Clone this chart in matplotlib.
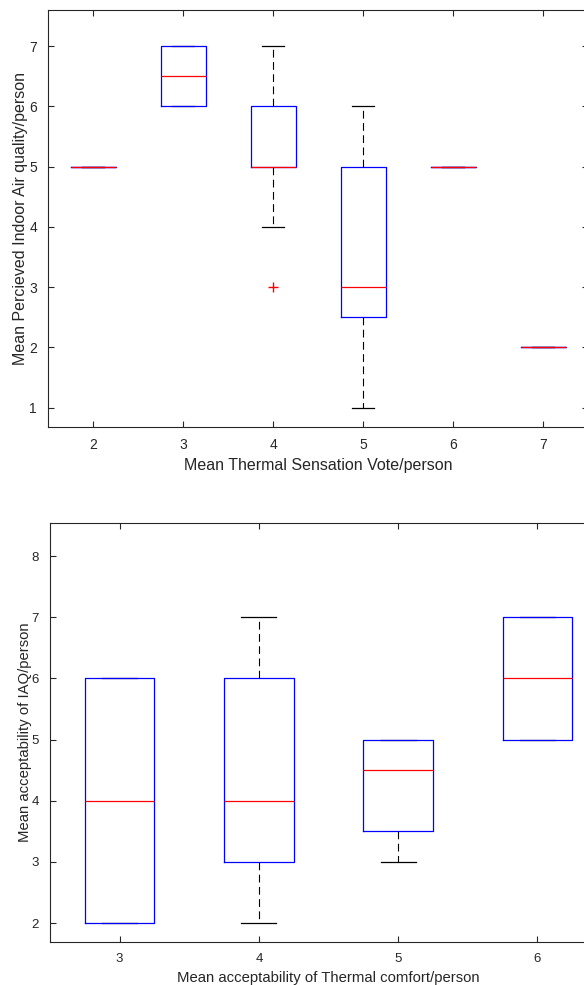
# boxplots of mean votes per person (MATLAB style)

import matplotlib
matplotlib.use('Agg')
import matplotlib.pyplot as plt

plt.rcParams['font.family'] = ['Liberation Sans', 'DejaVu Sans']

# top chart: perceived IAQ vs thermal sensation
tsv_labels = ['2', '3', '4', '5', '6', '7']
tsv_med = [5, 6.5, 5, 3, 5, 2]
tsv_q1 = [5, 6, 5, 2.5, 5, 2]
tsv_q3 = [5, 7, 6, 5, 5, 2]
tsv_lo = [5, 6, 4, 1, 5, 2]
tsv_hi = [5, 7, 7, 6, 5, 2]
tsv_fliers = [[], [], [3], [], [], []]

# bottom chart: IAQ acceptability vs thermal comfort acceptability
tc_labels = ['3', '4', '5', '6']
tc_med = [4, 4, 4.5, 6]
tc_q1 = [2, 3, 3.5, 5]
tc_q3 = [6, 6, 5, 7]
tc_lo = [2, 2, 3, 5]
tc_hi = [6, 7, 5, 7]
tc_fliers = [[], [], [], []]

AX_COLOR = (0.15, 0.15, 0.15)
W, H = 584, 985


def make_stats(med, q1, q3, lo, hi, fliers):
    stats = []
    for i in range(len(med)):
        stats.append({'med': med[i], 'q1': q1[i], 'q3': q3[i],
                      'whislo': lo[i], 'whishi': hi[i], 'fliers': fliers[i]})
    return stats


def draw_box(ax, stats, labels, xlabel, ylabel, ylim, yticks, tick_fs, label_fs, ypad):
    n = len(stats)
    pos = list(range(1, n + 1))
    ax.bxp(stats, positions=pos, widths=0.5, capwidths=0.25,
           boxprops=dict(color='blue', linewidth=0.9, zorder=3),
           medianprops=dict(color='red', linewidth=0.9, zorder=4),
           whiskerprops=dict(color='black', linewidth=0.8, linestyle=(0, (7, 4)), zorder=2),
           capprops=dict(color='black', linewidth=0.9, zorder=2),
           flierprops=dict(marker='+', markeredgecolor='red', markersize=7, linestyle='none'))
    ax.set_xlim(0.5, n + 0.5)
    ax.set_ylim(*ylim)
    ax.set_xticks(pos)
    ax.set_xticklabels(labels)
    ax.set_yticks(yticks)
    ax.set_xlabel(xlabel, fontsize=label_fs, color=AX_COLOR, labelpad=4)
    ax.set_ylabel(ylabel, fontsize=label_fs, color=AX_COLOR, labelpad=ypad)
    ax.tick_params(direction='in', top=True, right=True, length=4, width=0.8,
                   colors=AX_COLOR, labelsize=tick_fs, pad=8)
    for sp in ax.spines.values():
        sp.set_color(AX_COLOR)
        sp.set_linewidth(0.8)


fig = plt.figure(figsize=(W / 100, H / 100), dpi=100)

ax1 = fig.add_axes([48 / W, (H - 427) / H, (588 - 48) / W, (427 - 10) / H])
draw_box(ax1, make_stats(tsv_med, tsv_q1, tsv_q3, tsv_lo, tsv_hi, tsv_fliers), tsv_labels,
         'Mean Thermal Sensation Vote/person', 'Mean Percieved Indoor Air quality/person',
         (0.68, 7.6), [1, 2, 3, 4, 5, 6, 7], 10, 11.5, 1)

ax2 = fig.add_axes([50 / W, (H - 942) / H, (607 - 50) / W, (942 - 523) / H])
draw_box(ax2, make_stats(tc_med, tc_q1, tc_q3, tc_lo, tc_hi, tc_fliers), tc_labels,
         'Mean acceptability of Thermal comfort/person', 'Mean acceptability of IAQ/person',
         (1.69, 8.54), [2, 3, 4, 5, 6, 7, 8], 9.5, 10.7, 0)

fig.savefig('out.png', dpi=100)
